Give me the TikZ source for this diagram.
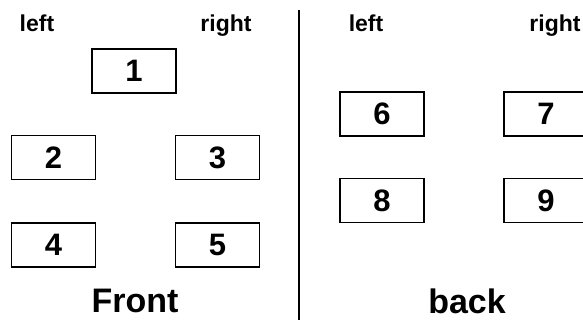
\documentclass[tikz,border=0pt]{standalone}
\usepackage{fontspec}
\setmainfont{Liberation Sans}
\tikzset{
  seat/.style={draw, line width=1.7pt, minimum width=84pt, minimum height=44pt,
               inner sep=0pt, font=\fontsize{31}{31}\selectfont\bfseries},
  side/.style={inner sep=0pt, anchor=base, font=\fontsize{23}{23}\selectfont\bfseries},
  caption/.style={inner sep=0pt, anchor=base, font=\fontsize{34}{34}\selectfont\bfseries},
}
\begin{document}
\begin{tikzpicture}[x=1pt, y=-1pt]
  \useasboundingbox (0,0) rectangle (583,320);
  % front panel
  \node[side] (fl) at (37,32) {left};
  \node[side] (fr) at (226,32) {right};
  \node[seat] (s1) at (134,71) {1};
  \node[seat] (s2) at (53.5,157.5) {2};
  \node[seat] (s3) at (217.5,157.5) {3};
  \node[seat] (s4) at (53.5,245) {4};
  \node[seat] (s5) at (217.5,245) {5};
  \node[caption] (front) at (135,312) {Front};
  % divider
  \coordinate (dtop) at (299,10);
  \coordinate (dbot) at (299,320);
  \draw[line width=1.8pt] (dtop) -- (dbot);
  % back panel
  \node[side] (bl) at (366,32) {left};
  \node[side] (br) at (555,32) {right};
  \node[seat] (s6) at (382,114) {6};
  \node[seat] (s8) at (382,200.5) {8};
  \begin{scope}
    % right-hand seats run past the page edge
    \clip (0,0) rectangle (583,320);
    \node[seat] (s7) at (546,114) {7};
    \node[seat] (s9) at (546,200.5) {9};
  \end{scope}
  \node[caption] (back) at (467,313) {back};
\end{tikzpicture}
\end{document}
